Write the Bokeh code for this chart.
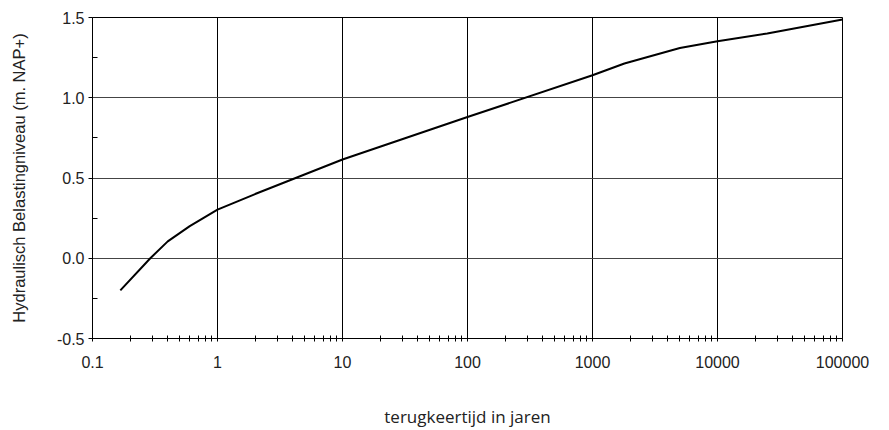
from bokeh.plotting import figure
from bokeh.models import Range1d, FixedTicker, NumeralTickFormatter, CustomJSTickFormatter
from bokeh.embed import file_html
from bokeh.resources import INLINE

# return period (years) and hydraulic load level (m NAP+)
return_period = [0.167, 0.29, 0.4, 0.6, 1, 2, 10, 100, 1000, 1800, 5000, 10000, 25000, 100000]
load_level = [-0.2, 0.0, 0.105, 0.2, 0.303, 0.40, 0.615, 0.88, 1.14, 1.213, 1.31, 1.352, 1.40, 1.487]

x_major = [0.1, 1, 10, 100, 1000, 10000, 100000]
y_major = [-0.5, 0.0, 0.5, 1.0, 1.5]
y_minor = [-0.25, 0.25, 0.75, 1.25]
x_minor = [k * d for d in x_major[:-1] for k in range(2, 10)]

p = figure(width=889, height=430, x_axis_type="log",
           x_range=Range1d(0.1, 100000), y_range=Range1d(-0.5, 1.5),
           output_backend="svg", toolbar_location=None,
           min_border_left=92, min_border_right=47, min_border_top=17, min_border_bottom=92)

p.line(return_period, load_level, line_color="black", line_width=2)

p.outline_line_color = "black"
p.outline_line_width = 1
p.background_fill_color = "white"
p.border_fill_color = "white"

xa = p.xaxis[0]
xa.ticker = FixedTicker(ticks=x_major, minor_ticks=x_minor)
xa.formatter = CustomJSTickFormatter(code="return String(tick);")
xa.axis_line_color = "black"
xa.major_tick_line_color = "black"
xa.minor_tick_line_color = "black"
xa.major_tick_in = 0
xa.major_tick_out = 3
xa.minor_tick_in = 3
xa.minor_tick_out = 3
xa.major_label_standoff = 14
xa.major_label_text_font = "Liberation Sans"
xa.major_label_text_font_size = "16px"
xa.major_label_text_color = "#222222"
xa.axis_label = "terugkeertijd in jaren"
xa.axis_label_text_font = "Open Sans"
xa.axis_label_text_font_size = "17px"
xa.axis_label_text_font_style = "normal"
xa.axis_label_text_color = "#222222"
xa.axis_label_standoff = 34

ya = p.yaxis[0]
ya.ticker = FixedTicker(ticks=y_major, minor_ticks=y_minor)
ya.formatter = NumeralTickFormatter(format="0.0")
ya.axis_line_color = "black"
ya.major_tick_line_color = "black"
ya.minor_tick_line_color = "black"
ya.major_tick_in = 0
ya.major_tick_out = 4
ya.minor_tick_in = 5
ya.minor_tick_out = 0
ya.major_label_standoff = 4
ya.major_label_text_font = "Liberation Sans"
ya.major_label_text_font_size = "16px"
ya.major_label_text_color = "#222222"
ya.axis_label = "Hydraulisch Belastingniveau (m. NAP+)"
ya.axis_label_text_font = "Liberation Sans"
ya.axis_label_text_font_size = "16.5px"
ya.axis_label_text_font_style = "normal"
ya.axis_label_text_color = "#222222"
ya.axis_label_standoff = 26

p.xgrid.ticker = FixedTicker(ticks=x_major)
p.ygrid.ticker = FixedTicker(ticks=y_major)
p.xgrid.grid_line_color = "black"
p.xgrid.grid_line_alpha = 1.0
p.ygrid.grid_line_color = "#444444"
p.ygrid.grid_line_alpha = 1.0
p.xgrid.minor_grid_line_color = None
p.ygrid.minor_grid_line_color = None

open("out.html", "w").write(file_html(p, INLINE))
